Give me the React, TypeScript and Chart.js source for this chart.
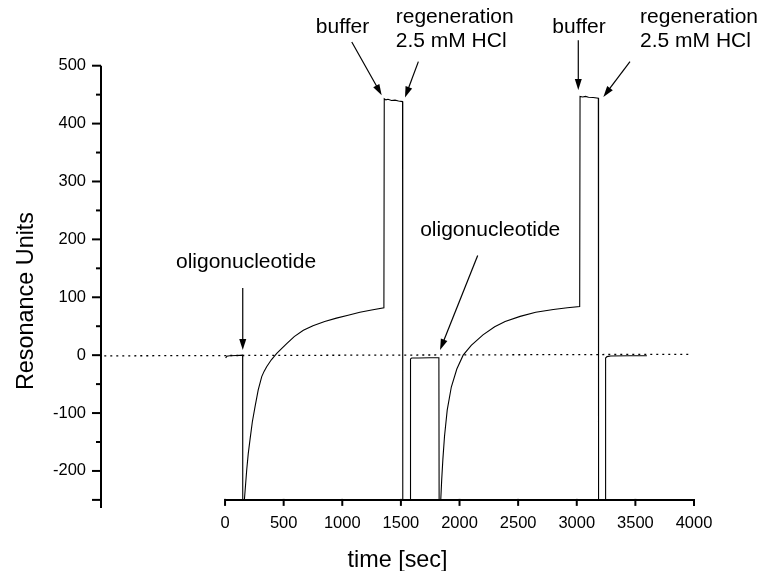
import React, { useEffect, useRef } from 'react';
import { Chart, registerables } from 'chart.js';

Chart.register(...registerables);

// ---- data ----
const timeSec = [
  5, 15, 40, 100, 150, 151, 165, 175, 185, 198, 213, 233, 256, 283, 313, 333, 355, 395, 441, 480,
  526, 590, 668, 750, 850, 950, 1050, 1150, 1250, 1355,
  1358, 1372, 1390, 1420, 1450, 1480, 1514,
  1516, 1578, 1580, 1584, 1592, 1650, 1750, 1824,
  1826, 1840, 1848, 1858, 1872, 1895, 1930, 1977, 2031, 2100, 2200, 2300, 2389, 2517, 2650, 2800, 2920, 3025,
  3028, 3050, 3075, 3100, 3140, 3184,
  3186, 3242, 3244, 3248, 3258, 3290, 3450, 3598,
];
const responseRU = [
  -5, -2, -1, -0.5, 0, -250, -250, -224, -198, -170, -146, -115, -89, -60, -37, -28, -20, -8, 3, 11,
  20, 32, 43, 51, 58, 64, 69, 74, 78, 82,
  443, 441, 442, 440, 440.5, 439, 438,
  -250, -250, -10, -6.5, -5, -5, -4.5, -4.5,
  -250, -250, -215, -180, -140, -95, -55, -24, 0, 17, 35, 49, 58, 67, 74, 79, 82, 84,
  447, 446, 447, 445.5, 445, 444,
  -250, -250, -9, -5, -2.5, -1.5, -1, -1,
];
const baselineTime = [-1030, 3970];
const baselineRU = [-1.2, 1.5];

const xTickValues = [0, 500, 1000, 1500, 2000, 2500, 3000, 3500, 4000];
const yLabelTicks = [-200, -100, 0, 100, 200, 300, 400, 500];
const yMajorTicks = [-250, -200, -100, 0, 100, 200, 300, 400, 500];
const yMinorTicks = [-150, -50, 50, 150, 250, 350, 450];
const xMin = -1058;
const xMax = 4000;
const yMin = -264;
const yMax = 500;
const xAxisLevel = -250;

const xTitle = 'time [sec]';
const yTitle = 'Resonance Units';

// annotations (text anchors and arrows in data coordinates)
const noteLines = [
  ['oligonucleotide'],
  ['buffer'],
  ['regeneration', '2.5 mM HCl'],
  ['oligonucleotide'],
  ['buffer'],
  ['regeneration', '2.5 mM HCl'],
];
const noteAlign = ['center', 'center', 'left', 'center', 'center', 'left'];
const noteX = [179, 1002, 1456, 2262, 3019, 3540];
const noteY = [150, 556, 573, 206, 556, 573];
const arrowFromX = [151, 1081, 1649, 2155, 3013, 3454];
const arrowFromY = [116, 541, 507, 172, 544, 507];
const arrowToX = [151, 1336, 1535, 1834, 3013, 3227];
const arrowToY = [9, 449, 445, 9, 458, 446];

const FONT = '"Liberation Sans", Arial, Helvetica, sans-serif';

const customPlugin = {
  id: 'customAxesNotes',
  afterDraw(chart: any) {
    const { ctx, chartArea } = chart;
    const xs = chart.scales.x;
    const ys = chart.scales.y;
    ctx.save();
    ctx.strokeStyle = '#000';
    ctx.fillStyle = '#000';
    ctx.lineWidth = 2;
    ctx.lineCap = 'butt';

    // y axis line
    const ax = chartArea.left;
    ctx.beginPath();
    ctx.moveTo(ax, ys.getPixelForValue(yMax));
    ctx.lineTo(ax, chartArea.bottom);
    ctx.stroke();
    // y ticks
    yMajorTicks.forEach((v) => {
      const py = ys.getPixelForValue(v);
      ctx.beginPath();
      ctx.moveTo(ax - 9, py);
      ctx.lineTo(ax, py);
      ctx.stroke();
    });
    yMinorTicks.forEach((v) => {
      const py = ys.getPixelForValue(v);
      ctx.beginPath();
      ctx.moveTo(ax - 5, py);
      ctx.lineTo(ax, py);
      ctx.stroke();
    });

    // x axis line
    const ay = ys.getPixelForValue(xAxisLevel);
    ctx.beginPath();
    ctx.moveTo(xs.getPixelForValue(xTickValues[0]), ay);
    ctx.lineTo(xs.getPixelForValue(xTickValues[xTickValues.length - 1]), ay);
    ctx.stroke();
    xTickValues.forEach((v) => {
      const px = xs.getPixelForValue(v);
      ctx.beginPath();
      ctx.moveTo(px, ay - 1);
      ctx.lineTo(px, ay + 6);
      ctx.stroke();
    });

    // axis titles
    ctx.font = `23.4px ${FONT}`;
    ctx.textAlign = 'center';
    ctx.textBaseline = 'alphabetic';
    ctx.fillText(xTitle, (chartArea.left + chartArea.right) / 2, 566.5);
    ctx.save();
    ctx.translate(32.5, 301);
    ctx.rotate(-Math.PI / 2);
    ctx.fillText(yTitle, 0, 0);
    ctx.restore();

    // annotations
    ctx.font = `21px ${FONT}`;
    noteLines.forEach((lines, i) => {
      ctx.textAlign = noteAlign[i] as CanvasTextAlign;
      const tx = xs.getPixelForValue(noteX[i]);
      const ty = ys.getPixelForValue(noteY[i]);
      lines.forEach((t, j) => ctx.fillText(t, tx, ty + j * 23.4));
      const x1 = xs.getPixelForValue(arrowFromX[i]);
      const y1 = ys.getPixelForValue(arrowFromY[i]);
      const x2 = xs.getPixelForValue(arrowToX[i]);
      const y2 = ys.getPixelForValue(arrowToY[i]);
      const ang = Math.atan2(y2 - y1, x2 - x1);
      const hl = 11;
      const hw = 3.5;
      ctx.lineWidth = 1.2;
      ctx.beginPath();
      ctx.moveTo(x1, y1);
      ctx.lineTo(x2 - Math.cos(ang) * hl * 0.8, y2 - Math.sin(ang) * hl * 0.8);
      ctx.stroke();
      const bx = x2 - Math.cos(ang) * hl;
      const by = y2 - Math.sin(ang) * hl;
      ctx.beginPath();
      ctx.moveTo(x2, y2);
      ctx.lineTo(bx + Math.sin(ang) * hw, by - Math.cos(ang) * hw);
      ctx.lineTo(bx - Math.sin(ang) * hw, by + Math.cos(ang) * hw);
      ctx.closePath();
      ctx.fill();
    });
    ctx.restore();
  },
};

export default function App() {
  const canvasRef = useRef<HTMLCanvasElement | null>(null);

  useEffect(() => {
    const canvas = canvasRef.current;
    if (!canvas) return;
    const sensorData = timeSec.map((t, i) => ({ x: t, y: responseRU[i] }));
    const baseData = baselineTime.map((t, i) => ({ x: t, y: baselineRU[i] }));
    const chart = new Chart(canvas, {
      type: 'line',
      data: {
        datasets: [
          {
            label: 'sensorgram',
            data: sensorData,
            borderColor: '#000',
            borderWidth: 1.1,
            pointRadius: 0,
            tension: 0,
            fill: false,
          },
          {
            label: 'baseline',
            data: baseData,
            borderColor: '#000',
            borderWidth: 1.3,
            borderDash: [2, 4],
            pointRadius: 0,
            tension: 0,
            fill: false,
          },
        ],
      },
      options: {
        animation: false,
        responsive: false,
        devicePixelRatio: 1,
        layout: { padding: { left: 0, top: 65.7, right: 65, bottom: 0 } },
        plugins: {
          legend: { display: false },
          tooltip: { enabled: false },
        },
        scales: {
          x: {
            type: 'linear',
            min: xMin,
            max: xMax,
            grid: { display: false, drawTicks: false },
            border: { display: false },
            afterBuildTicks: (s: any) => {
              s.ticks = xTickValues.map((v) => ({ value: v }));
            },
            afterFit: (s: any) => {
              s.height = 63;
            },
            ticks: {
              autoSkip: false,
              maxRotation: 0,
              padding: 6,
              color: '#000',
              font: { family: FONT, size: 16.5 },
              callback: (v: any) => String(v),
            },
          },
          y: {
            type: 'linear',
            min: yMin,
            max: yMax,
            grid: { display: false, drawTicks: false },
            border: { display: false },
            afterBuildTicks: (s: any) => {
              s.ticks = yLabelTicks.map((v) => ({ value: v }));
            },
            afterFit: (s: any) => {
              s.width = 101;
            },
            ticks: {
              autoSkip: false,
              padding: 15,
              color: '#000',
              font: { family: FONT, size: 16.5 },
              callback: (v: any) => String(v),
            },
          },
        },
      },
      plugins: [customPlugin],
    });
    return () => chart.destroy();
  }, []);

  return (
    <div style={{ position: 'fixed', left: 0, top: 0, width: 759, height: 571, background: '#fff' }}>
      <canvas ref={canvasRef} width={759} height={571} style={{ display: 'block' }} />
    </div>
  );
}
